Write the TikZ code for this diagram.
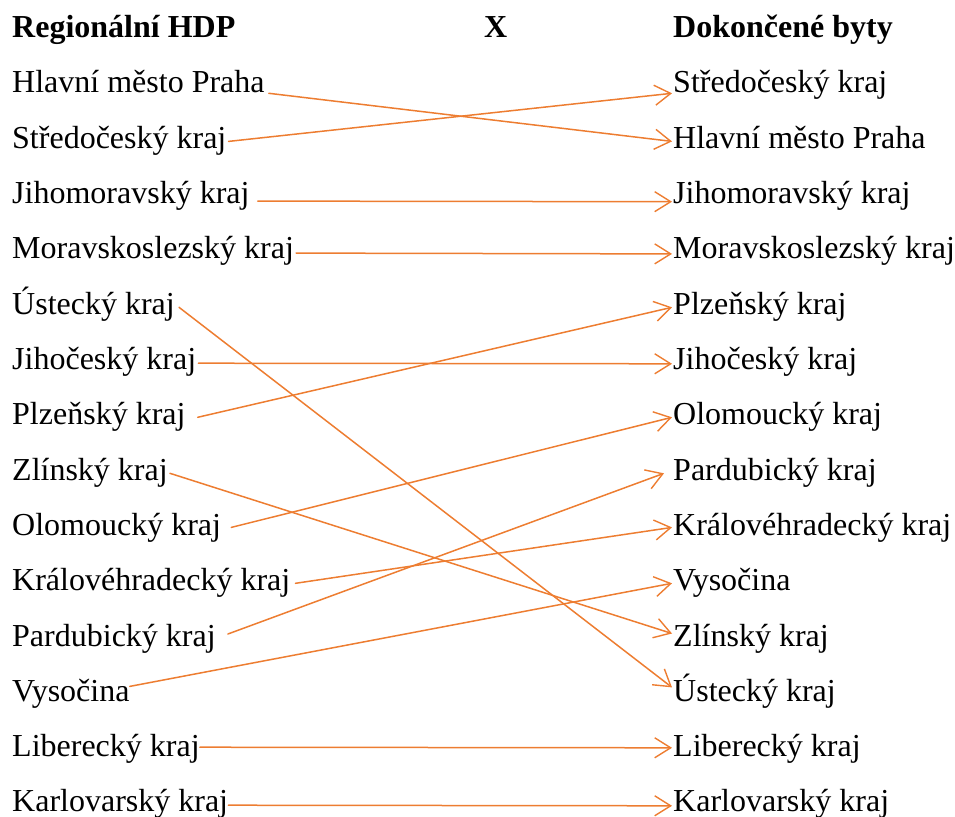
\documentclass[tikz,border=0pt]{standalone}
\usepackage{fontspec}
\setmainfont{Liberation Serif}
\usetikzlibrary{arrows.meta}
\definecolor{lineorange}{HTML}{ED7D31}
\begin{document}
\begin{tikzpicture}[x=1pt,y=-1pt,
  lbl/.style={anchor=base west, inner sep=0pt, font=\fontsize{32}{38}\selectfont},
  ttl/.style={anchor=base west, inner sep=0pt, font=\fontsize{32}{38}\selectfont\bfseries},
  link/.style={draw=lineorange, line width=1.5pt, line cap=round,
    -{Straight Barb[length=16pt,width=20pt,line width=1.4pt]}}]
\useasboundingbox (0,0) rectangle (955,816);
% titles
\node[ttl] (t1) at (12,37.3) {Regionální HDP};
\node[ttl] (tx) at (484,37.3) {X};
\node[ttl] (t2) at (673,37.3) {Dokončené byty};
% left column
\node[lbl] (l1)  at (12,92.6)  {Hlavní město Praha};
\node[lbl] (l2)  at (12,148.0) {Středočeský kraj};
\node[lbl] (l3)  at (12,203.3) {Jihomoravský kraj};
\node[lbl] (l4)  at (12,258.7) {Moravskoslezský kraj};
\node[lbl] (l5)  at (12,314.0) {Ústecký kraj};
\node[lbl] (l6)  at (12,369.3) {Jihočeský kraj};
\node[lbl] (l7)  at (12,424.7) {Plzeňský kraj};
\node[lbl] (l8)  at (12,480.0) {Zlínský kraj};
\node[lbl] (l9)  at (12,535.4) {Olomoucký kraj};
\node[lbl] (l10) at (12,590.7) {Královéhradecký kraj};
\node[lbl] (l11) at (12,646.0) {Pardubický kraj};
\node[lbl] (l12) at (12,701.4) {Vysočina};
\node[lbl] (l13) at (12,756.7) {Liberecký kraj};
\node[lbl] (l14) at (12,811.6) {Karlovarský kraj};
% right column
\node[lbl] (r1)  at (673,92.6)  {Středočeský kraj};
\node[lbl] (r2)  at (673,148.0) {Hlavní město Praha};
\node[lbl] (r3)  at (673,203.3) {Jihomoravský kraj};
\node[lbl] (r4)  at (673,258.7) {Moravskoslezský kraj};
\node[lbl] (r5)  at (673,314.0) {Plzeňský kraj};
\node[lbl] (r6)  at (673,369.3) {Jihočeský kraj};
\node[lbl] (r7)  at (673,424.7) {Olomoucký kraj};
\node[lbl] (r8)  at (673,480.0) {Pardubický kraj};
\node[lbl] (r9)  at (673,535.4) {Královéhradecký kraj};
\node[lbl] (r10) at (673,590.7) {Vysočina};
\node[lbl] (r11) at (673,646.0) {Zlínský kraj};
\node[lbl] (r12) at (673,701.4) {Ústecký kraj};
\node[lbl] (r13) at (673,756.7) {Liberecký kraj};
\node[lbl] (r14) at (673,811.6) {Karlovarský kraj};
% connectors
\draw[link] ([shift={(4,0.7)}]l1.base east)   -- ([shift={(-1,-6.6)}]r2.base west);
\draw[link] ([shift={(2,-6.6)}]l2.base east)  -- ([shift={(-1,0.7)}]r1.base west);
\draw[link] ([shift={(8,-2.2)}]l3.base east)  -- ([shift={(-1,-1.6)}]r3.base west);
\draw[link] ([shift={(2,-5.6)}]l4.base east)  -- ([shift={(-1,-4.8)}]r4.base west);
\draw[link] ([shift={(4,-6.7)}]l5.base east)  -- ([shift={(-1,-14)}]r12.base west);
\draw[link] ([shift={(2,-6.1)}]l6.base east)  -- ([shift={(-1,-5.5)}]r6.base west);
\draw[link] ([shift={(12,-7.4)}]l7.base east) -- ([shift={(-1,-6.7)}]r5.base west);
\draw[link] ([shift={(2,-6.7)}]l8.base east)  -- ([shift={(-1,-12.5)}]r11.base west);
\draw[link] ([shift={(10,-8)}]l9.base east)   -- ([shift={(-1,-7.4)}]r7.base west);
\draw[link] ([shift={(5,-7.4)}]l10.base east) -- ([shift={(-1,-8)}]r9.base west);
\draw[link] ([shift={(12,-12)}]l11.base east) -- ([shift={(-9,-6.7)}]r8.base west);
\draw[link] ([shift={(0,-15)}]l12.base east)  -- ([shift={(-1,-7.4)}]r10.base west);
\draw[link] ([shift={(0,-9.5)}]l13.base east) -- ([shift={(-1,-8.9)}]r13.base west);
\draw[link] ([shift={(0,-6.4)}]l14.base east) -- ([shift={(-1,-5.8)}]r14.base west);
\end{tikzpicture}
\end{document}
